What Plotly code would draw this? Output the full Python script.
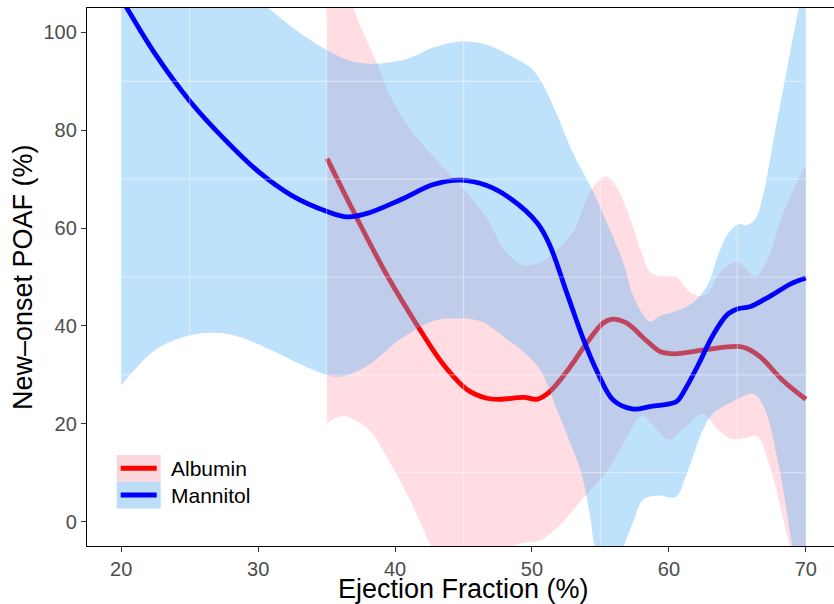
import plotly.graph_objects as go

# ---------------- data ----------------
mann_x = [20, 22.5, 25, 27.5, 30, 32.5, 35.04, 36.5, 37.96, 40.4, 42.8, 44.8, 46.7,
          48.4, 50.4, 51.3, 52.55, 53.75, 54.75, 55.95, 57.4, 58.6, 60.1, 60.6, 61.2, 62.3,
          63.2, 64.3, 65.06, 65.9, 67.4, 68.9, 70]
mann_y = [107, 95.5, 86, 78.3, 71.6, 66.6, 63.4, 62.3, 63, 65.8, 68.9, 69.8, 68.7,
          66.1, 61, 56.5, 46.7, 37.3, 30.7, 24.8, 23, 23.5, 24.1, 24.6, 27.1, 32.9,
          38, 42.4, 43.5, 43.9, 46.1, 48.6, 49.8]

mann_up_x = [20, 24, 28, 30.75, 33.1, 35.5, 37, 38.7, 40.9, 42.8, 45, 47, 48.4, 49.9, 50.6,
             51.8, 53.0, 54.25, 55.2, 56.7, 57.4, 58.6, 59.3, 60.6, 61.8, 62.8, 63.6, 64.3,
             65.06, 65.7, 66.3, 66.9, 67.6, 68.6, 69.3, 70]
mann_up_y = [150, 128, 112, 105, 99.8, 95.7, 94, 93.6, 94.6, 96.9, 98.2, 97.2, 95.3, 92.8, 90.3,
             83.4, 75.3, 68.7, 62.9, 52.7, 46.1, 40.9, 42, 43.1, 44.9, 48.2, 54.5, 58.8,
             60.8, 60.6, 61.8, 66.9, 77.4, 92.1, 102.4, 112]

mann_lo_x = [20, 22.5, 24.9, 26.9, 28.8, 31.2, 33.7, 35.8, 37.96, 40.4, 42.8, 44.3, 46.2, 47.7,
             50.5, 51.8, 52.8, 53.6, 54.25, 54.6, 55.6, 56.7, 57.4, 58.1, 59.2, 60.5, 61.2,
             62.5, 63.2, 65, 66.2, 67, 68, 69, 70]
mann_lo_y = [27.8, 35.1, 38, 38.6, 37.6, 34.7, 31.4, 29.6, 31.8, 37.3, 41, 41.5, 41, 38.3,
             31.4, 23, 16, 10, 1, -5, -12, -5, 0, 4.4, 5.3, 5, 9,
             18.8, 22, 25, 26.1, 23, 11.8, -5, -25]

alb_x = [35.04, 37.2, 39.4, 41.6, 43.5, 45.25, 46.7, 47.7, 49.4, 50.36, 51.2, 52.55, 54.0,
         55.2, 55.9, 56.9, 58.4, 59.4, 60.45, 62.8, 65, 65.7, 66.7, 68.3, 70]
alb_y = [74.2, 62.1, 50.4, 40.2, 32.2, 27.0, 25.2, 25, 25.4, 25, 26.3, 30.7, 36.5,
         40.6, 41.4, 40.6, 36.9, 34.7, 34.3, 35.2, 35.8, 35.4, 33.6, 28.9, 25]

alb_up_x = [35, 36, 36.95, 38.7, 39.65, 41.1, 42.8, 45, 46.7, 48, 49.3, 50.5, 51.8, 53.0,
            54.25, 55.0, 55.5, 56.2, 57.25, 58, 58.7, 59.5, 60.5, 61.7, 62.7, 63.7, 65,
            66.3, 67.2, 68.4, 70]
alb_up_y = [130, 115, 105, 93.6, 87, 80.3, 74.6, 68, 62.1, 55.5, 52.5, 52.9, 55.5, 59.2,
            67.6, 70, 70.5, 68.3, 61.3, 55, 50.8, 50.2, 50, 46.6, 46.3, 50.8, 53,
            50.2, 53.7, 63.4, 73]

alb_lo_x = [35, 36.2, 38, 39.4, 41.1, 42.6, 44.5, 46.5, 48.3, 49.5, 50.5, 52, 53.75, 55.5,
            56.7, 58, 58.7, 60, 61, 62.5, 63.5, 64.5, 65.5, 66.4, 67.4, 68.4, 68.8, 70]
alb_lo_y = [20.1, 21.6, 19, 13.2, 4.4, -4.8, -14, -13, -5.5, -4.3, -4.0, -0.8, 4.8, 10.4,
            16, 21.6, 20.1, 16.7, 18.8, 22, 19, 17, 17, 17.5, 11, 0, -5, -30]

x_ticks = [20, 30, 40, 50, 60, 70]
y_ticks = [0, 20, 40, 60, 80, 100]
x_minor = [25, 35, 45, 55, 65]
y_minor = [10, 30, 50, 70, 90]

groups = ["Albumin", "Mannitol"]
x_title = "Ejection Fraction (%)"
y_title = "New–onset POAF (%)"

# ---------------- styling ----------------
W, H = 834, 604
ML, MR, MT, MB = 87, 0, 8, 58
FONT = "Liberation Sans, Arial, Helvetica, sans-serif"
PINK_FILL = "#ffdde3"
BLUE_FILL = "rgba(88,178,247,0.38)"

def px_x(p):
    return (p - ML) / (W - ML - MR)

def px_y(p):
    return (H - MB - p) / (H - MT - MB)

fig = go.Figure()

# Albumin ribbon
fig.add_trace(go.Scatter(x=alb_lo_x, y=alb_lo_y, mode="lines", line=dict(width=0, shape="spline"),
                         showlegend=False, hoverinfo="skip"))
fig.add_trace(go.Scatter(x=alb_up_x, y=alb_up_y, mode="lines", line=dict(width=0, shape="spline"),
                         fill="tonexty", fillcolor=PINK_FILL, showlegend=False, hoverinfo="skip"))
# Albumin line
fig.add_trace(go.Scatter(x=alb_x, y=alb_y, mode="lines", name=groups[0],
                         line=dict(color="#ff0000", width=4.8, shape="spline"), showlegend=False))
# Mannitol ribbon
fig.add_trace(go.Scatter(x=mann_lo_x, y=mann_lo_y, mode="lines", line=dict(width=0, shape="spline"),
                         showlegend=False, hoverinfo="skip"))
fig.add_trace(go.Scatter(x=mann_up_x, y=mann_up_y, mode="lines", line=dict(width=0, shape="spline"),
                         fill="tonexty", fillcolor=BLUE_FILL, showlegend=False, hoverinfo="skip"))
# Mannitol line
fig.add_trace(go.Scatter(x=mann_x, y=mann_y, mode="lines", name=groups[1],
                         line=dict(color="#0000ff", width=4.8, shape="spline"), showlegend=False))

shapes = []
# light grid lines drawn over the ribbons
for v in x_minor:
    shapes.append(dict(type="line", xref="x", yref="paper", x0=v, x1=v, y0=0, y1=1,
                       line=dict(color="white", width=1.2), opacity=0.4, layer="above"))
for v in y_minor:
    shapes.append(dict(type="line", xref="paper", yref="y", x0=0, x1=1, y0=v, y1=v,
                       line=dict(color="white", width=1.2), opacity=0.4, layer="above"))

# custom legend keys
key_fill = ["#f9d7dd", "#bcdcf7"]
key_line = ["#ff0000", "#0000ff"]
key_top = [455, 481.7]
key_h = 26.7
for i in range(2):
    shapes.append(dict(type="rect", xref="paper", yref="paper",
                       x0=px_x(116.7), x1=px_x(160.7),
                       y0=px_y(key_top[i] + key_h), y1=px_y(key_top[i]),
                       fillcolor=key_fill[i], line=dict(width=0), layer="above"))
    yc = key_top[i] + key_h / 2
    shapes.append(dict(type="line", xref="paper", yref="paper",
                       x0=px_x(120.7), x1=px_x(156.7), y0=px_y(yc), y1=px_y(yc),
                       line=dict(color=key_line[i], width=5), layer="above"))

annotations = []
for i in range(2):
    yc = key_top[i] + key_h / 2
    annotations.append(dict(text=groups[i], xref="paper", yref="paper", x=px_x(169), y=px_y(yc),
                            xanchor="left", yanchor="middle", showarrow=False,
                            font=dict(family=FONT, size=21, color="#000000")))
annotations.append(dict(text=x_title, xref="paper", yref="paper", x=px_x(463), y=px_y(589),
                        xanchor="center", yanchor="middle", showarrow=False,
                        font=dict(family=FONT, size=27, color="#000000")))
annotations.append(dict(text=y_title, xref="paper", yref="paper", x=px_x(23), y=px_y(277),
                        xanchor="center", yanchor="middle", showarrow=False, textangle=-90,
                        font=dict(family=FONT, size=27, color="#000000")))

fig.update_layout(
    width=W, height=H,
    margin=dict(l=ML, r=MR, t=MT, b=MB, pad=0),
    paper_bgcolor="white", plot_bgcolor="white",
    showlegend=False,
    shapes=shapes, annotations=annotations,
    font=dict(family=FONT),
)
fig.update_xaxes(range=[17.5, 72.06], tickvals=x_ticks, showgrid=False, zeroline=False,
                 showline=True, linecolor="#000000", linewidth=1.3, mirror=True,
                 ticks="outside", ticklen=5, tickwidth=1.3, tickcolor="#333333",
                 tickfont=dict(family=FONT, size=20, color="#4d4d4d"))
fig.update_yaxes(range=[-5, 105], tickvals=y_ticks, showgrid=False, zeroline=False,
                 showline=True, linecolor="#000000", linewidth=1.3, mirror=False,
                 ticks="outside", ticklen=5, tickwidth=1.3, tickcolor="#333333",
                 tickfont=dict(family=FONT, size=20, color="#4d4d4d"))

fig.write_html("out.html", config={"displayModeBar": False},
               post_script="document.body.style.margin='0';document.body.style.overflow='hidden';")
